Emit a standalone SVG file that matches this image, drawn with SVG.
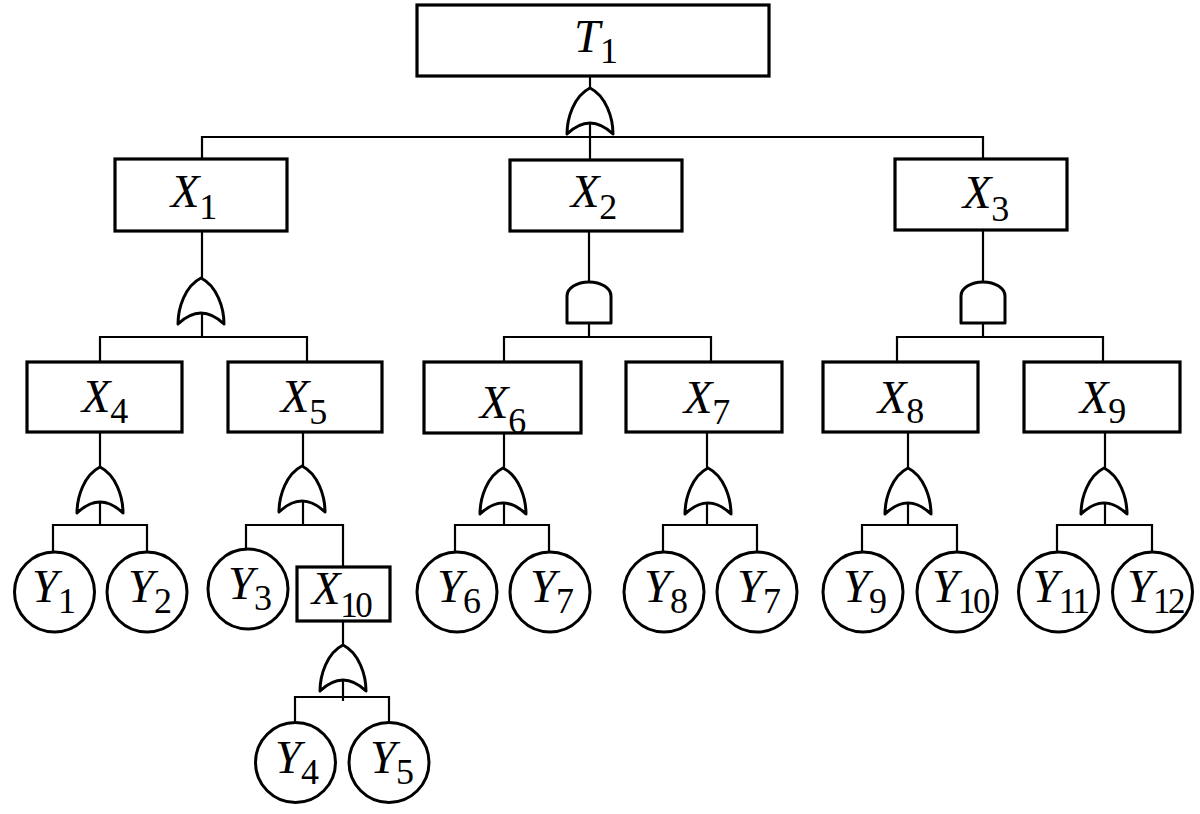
<svg xmlns="http://www.w3.org/2000/svg" width="1200" height="814" viewBox="0 0 1200 814">
<defs>
<style>
.box{fill:#fff;stroke:#000;stroke-width:3.2}
.ev{fill:#fff;stroke:#000;stroke-width:3}
.gate{fill:#fff;stroke:#000;stroke-width:3;stroke-linejoin:round}
.con{fill:none;stroke:#000;stroke-width:2.2}
.lbl{font-family:'Liberation Serif','Times New Roman',serif;font-size:47px;fill:#000;text-anchor:middle}
.v{font-style:italic}
.s{font-size:36px}
.s2{font-size:35px;letter-spacing:-2.5px}
</style>
<path id="or" d="M-23,46 C-23,30 -16,8 0,0 C16,8 23,30 23,46 Q0,24 -23,46 Z"/>
<path id="and" d="M-22,41 V14 A22,14 0 0 1 22,14 V41 Z"/>
</defs>
<rect width="1200" height="814" fill="#fff"/>
<g id="connectors" class="con">
<path d="M590,76 V161"/>
<path d="M202,159 V137 H983 V159"/>
<path d="M202,231 V337"/>
<path d="M100,362 V337 H307 V362"/>
<path d="M100,432 V525"/>
<path d="M53,552 V525 H147 V552"/>
<path d="M303,432 V525"/>
<path d="M246,549 V525 H343 V567"/>
<path d="M343,621 V701"/>
<path d="M295,723 V697 H389 V723"/>
<path d="M589,231 V337"/>
<path d="M504,362 V337 H711 V362"/>
<path d="M504,433 V525"/>
<path d="M455,552 V525 H549 V552"/>
<path d="M707,432 V525"/>
<path d="M663,552 V525 H757 V552"/>
<path d="M983,230 V337"/>
<path d="M897,362 V337 H1103 V362"/>
<path d="M908,432 V525"/>
<path d="M862,552 V525 H957 V552"/>
<path d="M1105,432 V525"/>
<path d="M1057,552 V525 H1152 V552"/>
</g>
<g id="gates">
<use href="#or" class="gate" x="590" y="88"/>
<use href="#or" class="gate" x="201" y="278"/>
<use href="#and" class="gate" x="589" y="282"/>
<use href="#and" class="gate" x="983" y="282"/>
<use href="#or" class="gate" x="100" y="467"/>
<use href="#or" class="gate" x="302" y="466"/>
<use href="#or" class="gate" x="503" y="468"/>
<use href="#or" class="gate" x="708" y="468"/>
<use href="#or" class="gate" x="908" y="468"/>
<use href="#or" class="gate" x="1104" y="468"/>
<use href="#or" class="gate" x="343" y="645"/>
</g>
<g font-family="Liberation Serif, Times New Roman, serif">
<g id="T1"><rect class="box" x="417" y="5" width="352" height="71"/><text class="lbl" x="596" y="52"><tspan class="v">T</tspan><tspan class="s" dy="11">1</tspan></text></g>
<g id="X1"><rect class="box" x="115" y="159" width="172" height="72"/><text class="lbl" x="194" y="207"><tspan class="v">X</tspan><tspan class="s" dy="12">1</tspan></text></g>
<g id="X2"><rect class="box" x="510" y="160" width="172" height="71"/><text class="lbl" x="594" y="207"><tspan class="v">X</tspan><tspan class="s" dy="12">2</tspan></text></g>
<g id="X3"><rect class="box" x="895" y="159" width="172" height="71"/><text class="lbl" x="986" y="208"><tspan class="v">X</tspan><tspan class="s" dy="13">3</tspan></text></g>
<g id="X4"><rect class="box" x="27" y="362" width="155" height="70"/><text class="lbl" x="105" y="412"><tspan class="v">X</tspan><tspan class="s" dy="11">4</tspan></text></g>
<g id="X5"><rect class="box" x="228" y="362" width="154" height="70"/><text class="lbl" x="304" y="412"><tspan class="v">X</tspan><tspan class="s" dy="12">5</tspan></text></g>
<g id="X6"><rect class="box" x="424" y="362" width="157" height="71"/><text class="lbl" x="503" y="418"><tspan class="v">X</tspan><tspan class="s" dy="15">6</tspan></text></g>
<g id="X7"><rect class="box" x="626" y="362" width="156" height="70"/><text class="lbl" x="707" y="413"><tspan class="v">X</tspan><tspan class="s" dy="11">7</tspan></text></g>
<g id="X8"><rect class="box" x="823" y="362" width="155" height="70"/><text class="lbl" x="901" y="413"><tspan class="v">X</tspan><tspan class="s" dy="10">8</tspan></text></g>
<g id="X9"><rect class="box" x="1024" y="362" width="156" height="70"/><text class="lbl" x="1103" y="413"><tspan class="v">X</tspan><tspan class="s" dy="10">9</tspan></text></g>
<g id="X10"><rect class="box" x="297" y="567" width="93" height="54"/><text class="lbl" x="341" y="604"><tspan class="v">X</tspan><tspan class="s2" dy="13">10</tspan></text></g>
<g id="Y1"><circle class="ev" cx="54.5" cy="592" r="40"/><text class="lbl" x="54" y="602"><tspan class="v">Y</tspan><tspan class="s" dy="11">1</tspan></text></g>
<g id="Y2"><circle class="ev" cx="147" cy="592" r="40"/><text class="lbl" x="150" y="602"><tspan class="v">Y</tspan><tspan class="s" dy="11">2</tspan></text></g>
<g id="Y3"><circle class="ev" cx="248" cy="589" r="40"/><text class="lbl" x="250" y="599"><tspan class="v">Y</tspan><tspan class="s" dy="11">3</tspan></text></g>
<g id="Y4"><circle class="ev" cx="295.5" cy="762.5" r="40"/><text class="lbl" x="297" y="773"><tspan class="v">Y</tspan><tspan class="s" dy="11">4</tspan></text></g>
<g id="Y5"><circle class="ev" cx="389" cy="762.5" r="40"/><text class="lbl" x="392" y="773"><tspan class="v">Y</tspan><tspan class="s" dy="11">5</tspan></text></g>
<g id="Y6"><circle class="ev" cx="457" cy="592" r="40"/><text class="lbl" x="459" y="602"><tspan class="v">Y</tspan><tspan class="s" dy="11">6</tspan></text></g>
<g id="Y7"><circle class="ev" cx="550" cy="592" r="40"/><text class="lbl" x="552" y="602"><tspan class="v">Y</tspan><tspan class="s" dy="11">7</tspan></text></g>
<g id="Y8"><circle class="ev" cx="664" cy="592" r="40"/><text class="lbl" x="666" y="602"><tspan class="v">Y</tspan><tspan class="s" dy="11">8</tspan></text></g>
<g id="Y7b"><circle class="ev" cx="757" cy="592" r="40"/><text class="lbl" x="759" y="602"><tspan class="v">Y</tspan><tspan class="s" dy="11">7</tspan></text></g>
<g id="Y9"><circle class="ev" cx="863" cy="592" r="40"/><text class="lbl" x="865" y="602"><tspan class="v">Y</tspan><tspan class="s" dy="11">9</tspan></text></g>
<g id="Y10"><circle class="ev" cx="957" cy="592" r="40"/><text class="lbl" x="960" y="602"><tspan class="v">Y</tspan><tspan class="s2" dy="11">10</tspan></text></g>
<g id="Y11"><circle class="ev" cx="1058.5" cy="592" r="40"/><text class="lbl" x="1060" y="602"><tspan class="v">Y</tspan><tspan class="s2" dy="11">11</tspan></text></g>
<g id="Y12"><circle class="ev" cx="1152.5" cy="592" r="40"/><text class="lbl" x="1155" y="602"><tspan class="v">Y</tspan><tspan class="s2" dy="11">12</tspan></text></g>
</g>
</svg>
